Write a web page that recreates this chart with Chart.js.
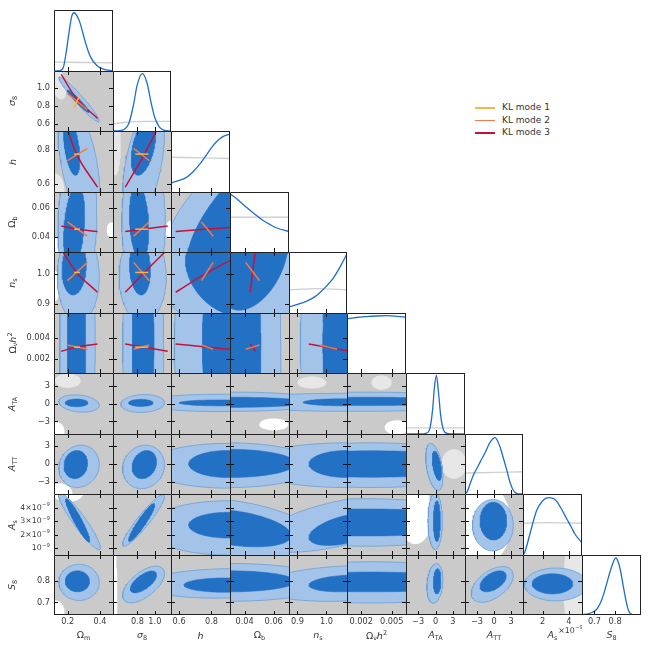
<!DOCTYPE html>
<html><head><meta charset="utf-8">
<script src="https://cdn.jsdelivr.net/npm/chart.js@4.4.1/dist/chart.umd.min.js"></script>
<style>
body{margin:0;background:#fff;width:650px;height:650px;position:relative;overflow:hidden;font-family:"DejaVu Sans",sans-serif;}
canvas{position:absolute;}
.ttl{position:absolute;font-size:9.5px;color:#333;white-space:nowrap;line-height:1;}
.ttl.y{transform:translate(-50%,-50%) rotate(-90deg);}
.ttl.x{transform:translate(-50%,-50%);}
.ttl i{font-style:italic;}
.ttl sub{font-size:68%;vertical-align:-0.25em;}
.ttl sup{font-size:68%;vertical-align:0.55em;}
#legend{position:absolute;left:475px;top:102px;font-size:9px;color:#333;}
#legend .row{position:relative;height:12.6px;}
#legend .sw{position:absolute;left:0;top:5px;width:20px;height:1.6px;}
#legend .lb{position:absolute;left:27px;top:0px;white-space:nowrap;}
</style></head>
<body>
<div id="legend"></div>
<script>
// ---------------- data ----------------
const paramTitles = ['Ω<sub>m</sub>','<i>σ</i><sub>8</sub>','<i>h</i>','Ω<sub>b</sub>','<i>n</i><sub>s</sub>','Ω<sub>ν</sub><i>h</i><sup>2</sup>','<i>A</i><sub>TA</sub>','<i>A</i><sub>TT</sub>','<i>A</i><sub>s</sub>','<i>S</i><sub>8</sub>'];
const axisMin = [0.115, 0.52, 0.55, 0.030, 0.871, 0.0006, -5.1, -5.1, 0.5, 0.64];
const axisMax = [0.48, 1.185, 0.915, 0.0705, 1.071, 0.0064, 5.1, 5.1, 5.0, 0.925];
const xTickValues = [[0.2,0.4],[0.8,1.0],[0.6,0.8],[0.04,0.06],[0.9,1.0],[0.002,0.005],[-3,0,3],[-3,0,3],[2,4],[0.7,0.8]];
const xTickLabels = [['0.2','0.4'],['0.8','1.0'],['0.6','0.8'],['0.04','0.06'],['0.9','1.0'],['0.002','0.005'],['−3','0','3'],['−3','0','3'],['2','4'],['0.7','0.8']];
const yTickValues = [[],[0.6,0.8,1.0],[0.6,0.8],[0.04,0.06],[0.9,1.0],[0.002,0.004],[-3,0,3],[-3,0,3],[1,2,3,4],[0.7,0.8]];
const yTickLabels = [[],['0.6','0.8','1.0'],['0.6','0.8'],['0.04','0.06'],['0.9','1.0'],['0.002','0.004'],['−3','0','3'],['−3','0','3'],['10^−9','2×10^−9','3×10^−9','4×10^−9'],['0.7','0.8']];
const offsetLabelAs = '×10^−9';

// 1D marginals (x, relative height)
const margOm   = [[0.115,0],[0.15,0.005],[0.173,0.06],[0.19,0.3],[0.204,0.56],[0.225,0.9],[0.24,0.955],[0.258,0.9],[0.277,0.78],[0.308,0.48],[0.339,0.24],[0.38,0.09],[0.42,0.03],[0.48,0.005]];
const margS8   = [[0.52,0],[0.6,0.005],[0.65,0.03],[0.7,0.12],[0.75,0.4],[0.8,0.78],[0.856,0.955],[0.91,0.8],[0.96,0.45],[1.0,0.22],[1.05,0.07],[1.1,0.015],[1.185,0]];
const margH    = [[0.55,0.15],[0.6,0.19],[0.646,0.24],[0.69,0.34],[0.729,0.46],[0.77,0.61],[0.81,0.76],[0.85,0.87],[0.88,0.92],[0.915,0.95]];
const margOb   = [[0.030,0.97],[0.035,0.88],[0.0415,0.74],[0.047,0.63],[0.053,0.52],[0.058,0.45],[0.0622,0.40],[0.0705,0.34]];
const margNs   = [[0.871,0.10],[0.9,0.14],[0.934,0.2],[0.958,0.26],[0.979,0.34],[1.0,0.44],[1.025,0.58],[1.05,0.78],[1.071,0.97]];
const margOnh2 = [[0.0006,0.90],[0.0015,0.925],[0.0025,0.94],[0.0035,0.95],[0.0045,0.955],[0.0055,0.945],[0.0064,0.93]];
const margATA  = [[-5.1,0],[-2.5,0],[-1.7,0.01],[-1.0,0.08],[-0.5,0.4],[-0.2,0.75],[0.15,0.96],[0.5,0.7],[0.9,0.3],[1.4,0.06],[2,0.01],[3,0],[5.1,0]];
const margATT  = [[-5.1,0],[-4.7,0.04],[-4.2,0.17],[-3.6,0.32],[-3.0,0.43],[-2.4,0.54],[-1.5,0.7],[-0.7,0.86],[0.2,0.94],[1.0,0.8],[1.64,0.6],[2.3,0.38],[2.8,0.2],[3.3,0.08],[3.8,0.02],[4.3,0],[5.1,0]];
const margAs   = [[0.5,0],[0.6,0.03],[0.8,0.16],[1.02,0.34],[1.54,0.73],[2.0,0.89],[2.42,0.94],[2.8,0.93],[3.07,0.88],[3.5,0.73],[3.84,0.59],[4.2,0.45],[4.47,0.34],[5.0,0.2]];
const margS8b  = [[0.64,0.005],[0.67,0.02],[0.69,0.045],[0.712,0.1],[0.735,0.25],[0.755,0.47],[0.78,0.77],[0.803,0.95],[0.822,0.8],[0.84,0.47],[0.852,0.25],[0.862,0.1],[0.872,0.03],[0.885,0.005],[0.925,0]];
const marginals = [margOm, margS8, margH, margOb, margNs, margOnh2, margATA, margATT, margAs, margS8b];

// grey reference marginals
const greyMarginals = [
  [[0.115,0.145],[0.3,0.14],[0.48,0.135]],
  [[0.52,0.12],[0.7,0.15],[0.9,0.16],[1.185,0.16]],
  [[0.55,0.57],[0.73,0.56],[0.915,0.55]],
  [[0.03,0.58],[0.05,0.58],[0.0705,0.58]],
  [[0.871,0.38],[0.97,0.4],[1.071,0.38]],
  [],
  [[-5.1,0.1],[5.1,0.1]],
  [[-5.1,0.35],[0,0.36],[5.1,0.37]],
  [[0.5,0.52],[2.5,0.53],[5.0,0.52]],
  []
];

// 2D contours: [col, outer(2σ) [cx,cy,ax,ay,rho], inner(1σ) [cx,cy,ax,ay,rho]]
const contoursRow1 = [[0,[0.27,0.87,0.125,0.25,-0.96],[0.265,0.85,0.068,0.125,-0.96]]];
const contoursRow2 = [[0,[0.27,0.72,0.13,0.36,-0.5],[0.225,0.82,0.05,0.17,-0.45]],
                      [1,[0.87,0.72,0.24,0.36,0.5],[0.87,0.82,0.14,0.17,0.45]]];
const contoursRow3 = [[0,[0.26,0.05,0.12,0.05,0.1],[0.24,0.047,0.065,0.028,0.3]],
                      [1,[0.87,0.05,0.25,0.05,0],[0.82,0.05,0.11,0.026,-0.2]],
                      [2,[0.95,0.05,0.45,0.05,0.5],[0.95,0.055,0.3,0.04,0.75]]];
const contoursRow4 = [[0,[0.265,0.99,0.13,0.15,0],[0.24,1.02,0.075,0.09,0.1]],
                      [1,[0.86,0.99,0.27,0.15,0],[0.83,1.02,0.12,0.09,-0.1]],
                      [2,[0.85,0.98,0.45,0.2,-0.4],[0.9,1.0,0.26,0.14,-0.3]],
                      [3,[0.05,1.0,0.035,0.25,0.2],[0.046,1.04,0.024,0.16,0.4]]];
const contoursRow5 = [[0,[0.26,0.0035,0.11,0.015,0],[0.255,0.0035,0.057,0.015,0]],
                      [1,[0.866,0.0035,0.235,0.015,0],[0.866,0.0035,0.125,0.015,0]],
                      [2,[0.92,0.0035,0.35,0.015,0],[0.92,0.0035,0.175,0.015,0]],
                      [3,[0.035,0.0035,0.03,0.015,0],[0.035,0.0035,0.0163,0.015,0]],
                      [4,[1.07,0.0035,0.16,0.015,0],[1.07,0.0035,0.082,0.015,0]]];
const contoursRow6 = [[0,[0.27,0.0,0.125,1.45,-0.2],[0.255,0.1,0.07,0.65,0]],
                      [1,[0.86,0.0,0.25,1.5,0.1],[0.84,0.1,0.14,0.6,0]],
                      [2,[0.85,0.1,0.5,1.45,0],[0.85,0.1,0.25,0.5,0]],
                      [3,[0.035,0.3,0.06,1.6,0],[0.033,0.2,0.05,0.85,0]],
                      [4,[1.05,0.2,0.4,1.5,0],[1.06,0.2,0.14,0.6,0]],
                      [5,[0.0025,0.3,0.012,1.6,0],[0.0025,0.35,0.01,0.7,0]]];
const contoursRow7 = [[0,[0.27,-0.4,0.125,3.6,0.1],[0.25,-0.1,0.073,2.4,0.1]],
                      [1,[0.87,-0.5,0.24,3.7,0.1],[0.88,-0.1,0.14,2.4,0.2]],
                      [2,[0.9,-0.3,0.5,3.8,0],[0.9,0,0.24,2.3,0]],
                      [3,[0.03,-0.2,0.06,3.8,0],[0.03,0.1,0.045,2.4,0]],
                      [4,[1.07,-0.2,0.35,3.8,0],[1.07,0,0.13,2.3,0]],
                      [5,[0.003,-0.2,0.012,3.8,0],[0.003,0,0.012,2.25,0]],
                      [6,[-0.2,-0.5,1.5,4.0,-0.4],[0.25,-0.3,0.8,2.5,-0.5]]];
const contoursRow8 = [[0,[0.272,3.0,0.13,2.1,-0.93],[0.262,3.05,0.075,1.6,-0.93]],
                      [1,[0.87,3.05,0.24,1.9,0.93],[0.85,2.9,0.15,1.4,0.93]],
                      [2,[0.9,2.5,0.5,2.0,0],[0.9,2.7,0.24,0.95,0]],
                      [3,[0.033,2.4,0.06,2.3,-0.4],[0.032,2.5,0.04,1.4,-0.4]],
                      [4,[1.04,2.8,0.28,2.1,0.6],[1.07,2.4,0.13,1.2,0.5]],
                      [5,[0.0025,2.9,0.012,1.75,0],[0.0025,2.9,0.012,1.0,0]],
                      [6,[-0.05,3.0,1.25,2.1,0],[0.25,3.0,0.6,1.5,0]],
                      [7,[-0.2,2.7,3.6,1.9,0],[-0.1,3.0,2.35,1.4,0]]];
const contoursRow9 = [[0,[0.27,0.795,0.125,0.086,0],[0.26,0.80,0.075,0.05,0]],
                      [1,[0.87,0.785,0.24,0.087,0.6],[0.87,0.797,0.15,0.052,0.65]],
                      [2,[0.88,0.79,0.5,0.07,0.1],[0.88,0.782,0.25,0.034,0]],
                      [3,[0.03,0.795,0.07,0.09,0],[0.03,0.80,0.045,0.05,0]],
                      [4,[1.07,0.79,0.3,0.085,0.2],[1.07,0.79,0.13,0.04,0.2]],
                      [5,[0.003,0.795,0.012,0.098,0],[0.003,0.797,0.012,0.047,0]],
                      [6,[-0.1,0.79,1.4,0.094,0.2],[0.3,0.80,0.65,0.06,0.1]],
                      [7,[-0.3,0.785,3.7,0.085,0.5],[-0.15,0.80,2.3,0.05,0.5]],
                      [8,[3.0,0.785,2.4,0.078,0],[2.75,0.788,1.55,0.048,0]]];
const contourRows = [[], contoursRow1, contoursRow2, contoursRow3, contoursRow4, contoursRow5, contoursRow6, contoursRow7, contoursRow8, contoursRow9];

// light regions of the grey reference distribution: [row, col, cx, cy, ax, ay, rho, shade(0 white, 1 light)]
const bgBlobs = [
  [1,0,0.12,1.12,0.07,0.25,-0.6,1],
  [2,0,0.12,0.56,0.06,0.1,0,1],
  [2,1,0.55,0.85,0.06,0.2,0,1],
  [3,0,0.12,0.03,0.04,0.01,0,0],
  [3,0,0.47,0.045,0.03,0.005,0,0],
  [3,1,1.17,0.045,0.05,0.006,0,0],
  [4,0,0.12,0.96,0.03,0.05,0,0],
  [6,0,0.13,-4.6,0.05,1.5,0,0],
  [6,0,0.2,3.8,0.08,1.2,0,1],
  [6,3,0.06,-3.5,0.01,1,0,0],
  [6,4,0.95,3.5,0.05,1,0,1],
  [6,5,0.004,3.5,0.001,1.2,0,1],
  [6,5,0.0055,-4,0.0012,1.2,0,0],
  [7,0,0.15,-5.1,0.08,1.8,0,0],
  [7,6,3.2,0,2.2,2.5,0,1],
  [8,0,0.2,5.2,0.1,0.8,0,0],
  [8,6,-3.5,3.5,3,2.2,0,0],
  [8,7,-2,2.8,5,3,0,0],
  [9,0,0.12,0.66,0.06,0.05,0,0],
  [9,1,0.54,0.72,0.03,0.25,0,0],
  [9,8,5.2,0.78,1.6,0.4,0,1]
];

// KL modes: points in (Om, s8, h, Ob, ns, Onh2)
const klMode1 = [[0.239,0.775,0.777,0.0454,1.004,0.0031],[0.276,0.925,0.777,0.0454,1.004,0.0031]];
const klMode2 = [[0.198,0.935,0.738,0.0503,0.977,0.0033],[0.322,0.757,0.811,0.0407,1.037,0.0029]];
const klMode3 = [[0.160,1.147,1.05,0.0475,1.08,0.0027],[0.255,0.88,0.777,0.0455,1.004,0.0031],[0.384,0.66,0.579,0.0438,0.939,0.0034]];
const klModes = [klMode3, klMode2, klMode1];          // drawing order (mode 1 on top)
const klColors = ['#c5123a', '#f27a4c', '#f8b44a'];
const legendLabels = ['KL mode 1', 'KL mode 2', 'KL mode 3'];
const legendColors = ['#f8b44a', '#f27a4c', '#c5123a'];

// ---------------- layout ----------------
const colEdges = [], rowEdges = [];
for (let k = 0; k <= 10; k++) { colEdges.push(Math.round(54 + k * 58.65)); rowEdges.push(Math.round(10 + k * 60.5)); }

const C = {grey:'#cacaca', light:'#e7e7e7', white:'#ffffff', blueDark:'#2271c5', blueLight:'#a3c4e8', blueEdge:'#6a9fd8', line1d:'#1f6fc6', grey1d:'#cfcfcf'};

function ellipsePts(p, n) {
  const [cx, cy, ax, ay, rho] = p; const s = Math.sqrt(1 - rho * rho); const pts = [];
  for (let k = 0; k <= n; k++) { const t = 2 * Math.PI * k / n; pts.push({x: cx + ax * Math.cos(t), y: cy + ay * (rho * Math.cos(t) + s * Math.sin(t))}); }
  return pts;
}
function drawTickText(ctx, str, x, y, align) {
  const parts = str.split('^'); const base = parts[0], sup = parts[1];
  const bf = sup ? 7.8 : 8.2;
  ctx.font = bf + 'px "DejaVu Sans"'; const wb = ctx.measureText(base).width;
  let ws = 0; if (sup) { ctx.font = '5.4px "DejaVu Sans"'; ws = ctx.measureText(sup).width + 0.3; }
  const x0 = align === 'right' ? x - wb - ws : align === 'center' ? x - (wb + ws) / 2 : x;
  ctx.textAlign = 'left'; ctx.textBaseline = 'middle'; ctx.fillStyle = '#3a3a3a';
  ctx.font = bf + 'px "DejaVu Sans"'; ctx.fillText(base, x0, y);
  if (sup) { ctx.font = '5.4px "DejaVu Sans"'; ctx.fillText(sup, x0 + wb + 0.3, y - 3); }
}

const panelPlugin = {
  id: 'panel',
  beforeDraw(chart, args, o) {
    const {ctx, chartArea: a} = chart;
    ctx.save(); ctx.fillStyle = o.diag ? C.white : C.grey;
    ctx.fillRect(a.left, a.top, a.right - a.left, a.bottom - a.top); ctx.restore();
  },
  afterDatasetsDraw(chart, args, o) {
    const {ctx, chartArea: a} = chart; const xs = chart.scales.x, ys = chart.scales.y;
    const i = o.i, j = o.j, diag = o.diag;
    ctx.save();
    ctx.strokeStyle = '#111'; ctx.lineWidth = 1;
    const tl = 4;
    xTickValues[j].forEach(v => {
      const px = Math.round(xs.getPixelForValue(v)) + 0.5;
      ctx.beginPath(); ctx.moveTo(px, a.bottom); ctx.lineTo(px, a.bottom - tl);
      if (!diag) { ctx.moveTo(px, a.top); ctx.lineTo(px, a.top + tl); }
      ctx.stroke();
    });
    if (!diag) yTickValues[i].forEach(v => {
      const py = Math.round(ys.getPixelForValue(v)) + 0.5;
      ctx.beginPath(); ctx.moveTo(a.left, py); ctx.lineTo(a.left + tl, py);
      ctx.moveTo(a.right, py); ctx.lineTo(a.right - tl, py); ctx.stroke();
    });
    // frame
    ctx.strokeStyle = '#222'; ctx.beginPath();
    ctx.moveTo(a.left + 0.5, a.bottom); ctx.lineTo(a.left + 0.5, a.top + 0.5); ctx.lineTo(a.right, a.top + 0.5);
    if (diag) { ctx.moveTo(a.right - 0.5, a.top); ctx.lineTo(a.right - 0.5, a.bottom); }
    if (i === 9) { ctx.moveTo(a.left, a.bottom - 0.5); ctx.lineTo(a.right, a.bottom - 0.5); }
    ctx.stroke();
    // tick labels on outer edges
    if (j === 0 && i > 0) yTickValues[i].forEach((v, k) => drawTickText(ctx, yTickLabels[i][k], a.left - 4, ys.getPixelForValue(v), 'right'));
    if (i === 9) {
      xTickValues[j].forEach((v, k) => drawTickText(ctx, xTickLabels[j][k], xs.getPixelForValue(v), a.bottom + 7, 'center'));
      if (j === 8) drawTickText(ctx, offsetLabelAs, a.right + 1, a.bottom + 16, 'right');
    }
    ctx.restore();
  }
};

function polyDataset(pts, bg, border, bw) {
  return {data: pts, showLine: true, fill: 'shape', backgroundColor: bg, borderColor: border, borderWidth: bw, pointRadius: 0, tension: 0, clip: 0};
}

function makePanel(i, j) {
  const diag = i === j;
  const extraL = j === 0 ? 54 : 0, extraB = i === 9 ? 35 : 0;
  const left = colEdges[j] - extraL, top = rowEdges[i];
  const w = colEdges[j + 1] - colEdges[j] + extraL, h = rowEdges[i + 1] - rowEdges[i] + extraB;
  const cv = document.createElement('canvas');
  cv.width = w; cv.height = h;
  Object.assign(cv.style, {left: left + 'px', top: top + 'px', width: w + 'px', height: h + 'px'});
  document.body.appendChild(cv);
  const ds = [];  // bottom to top
  let yMin, yMax;
  if (diag) {
    yMin = 0; yMax = 1;
    if (greyMarginals[i].length) ds.push({data: greyMarginals[i].map(p => ({x: p[0], y: p[1]})), showLine: true, borderColor: C.grey1d, borderWidth: 1.4, pointRadius: 0, tension: 0.3, fill: false, clip: 0});
    ds.push({data: marginals[i].map(p => ({x: p[0], y: p[1]})), showLine: true, borderColor: C.line1d, borderWidth: 1.3, pointRadius: 0, cubicInterpolationMode: 'monotone', fill: false, clip: 0});
  } else {
    yMin = axisMin[i]; yMax = axisMax[i];
    bgBlobs.filter(b => b[0] === i && b[1] === j).forEach(b => {
      const col = b[7] === 0 ? C.white : C.light;
      ds.push(polyDataset(ellipsePts([b[2], b[3], b[4], b[5], b[6]], 72), col, col, 0));
    });
    const ct = contourRows[i].find(c => c[0] === j);
    if (ct) {
      ds.push(polyDataset(ellipsePts(ct[1], 96), C.blueLight, C.blueEdge, 0.8));
      ds.push(polyDataset(ellipsePts(ct[2], 96), C.blueDark, C.blueDark, 0.5));
    }
    if (i <= 5) {
      klModes.forEach((m, k) => {
        ds.push({data: m.map(p => ({x: p[j], y: p[i]})), showLine: true, borderColor: klColors[k], borderWidth: 1.5, pointRadius: 0, tension: 0.4, fill: false, clip: 0});
      });
    }
  }
  ds.reverse();
  new Chart(cv.getContext('2d'), {
    type: 'scatter',
    data: {datasets: ds},
    options: {
      responsive: false, animation: false, devicePixelRatio: 1, events: [],
      layout: {padding: {left: extraL, bottom: extraB, top: 0, right: 0}},
      plugins: {legend: {display: false}, tooltip: {enabled: false}, panel: {i, j, diag}},
      scales: {
        x: {type: 'linear', min: axisMin[j], max: axisMax[j], display: false},
        y: {type: 'linear', min: yMin, max: yMax, display: false}
      }
    },
    plugins: [panelPlugin]
  });
}

for (let i = 0; i < 10; i++) for (let j = 0; j <= i; j++) makePanel(i, j);

// axis titles (real text)
for (let k = 0; k < 10; k++) {
  const d = document.createElement('div'); d.className = 'ttl x'; d.innerHTML = paramTitles[k];
  d.style.left = ((colEdges[k] + colEdges[k + 1]) / 2) + 'px'; d.style.top = '636px';
  document.body.appendChild(d);
  if (k > 0) {
    const e = document.createElement('div'); e.className = 'ttl y'; e.innerHTML = paramTitles[k];
    e.style.left = '13px'; e.style.top = ((rowEdges[k] + rowEdges[k + 1]) / 2) + 'px';
    document.body.appendChild(e);
  }
}
// legend
const lg = document.getElementById('legend');
legendLabels.forEach((t, k) => {
  const r = document.createElement('div'); r.className = 'row';
  r.innerHTML = '<div class="sw" style="background:' + legendColors[k] + '"></div><div class="lb">' + t + '</div>';
  lg.appendChild(r);
});
</script>
</body></html>
